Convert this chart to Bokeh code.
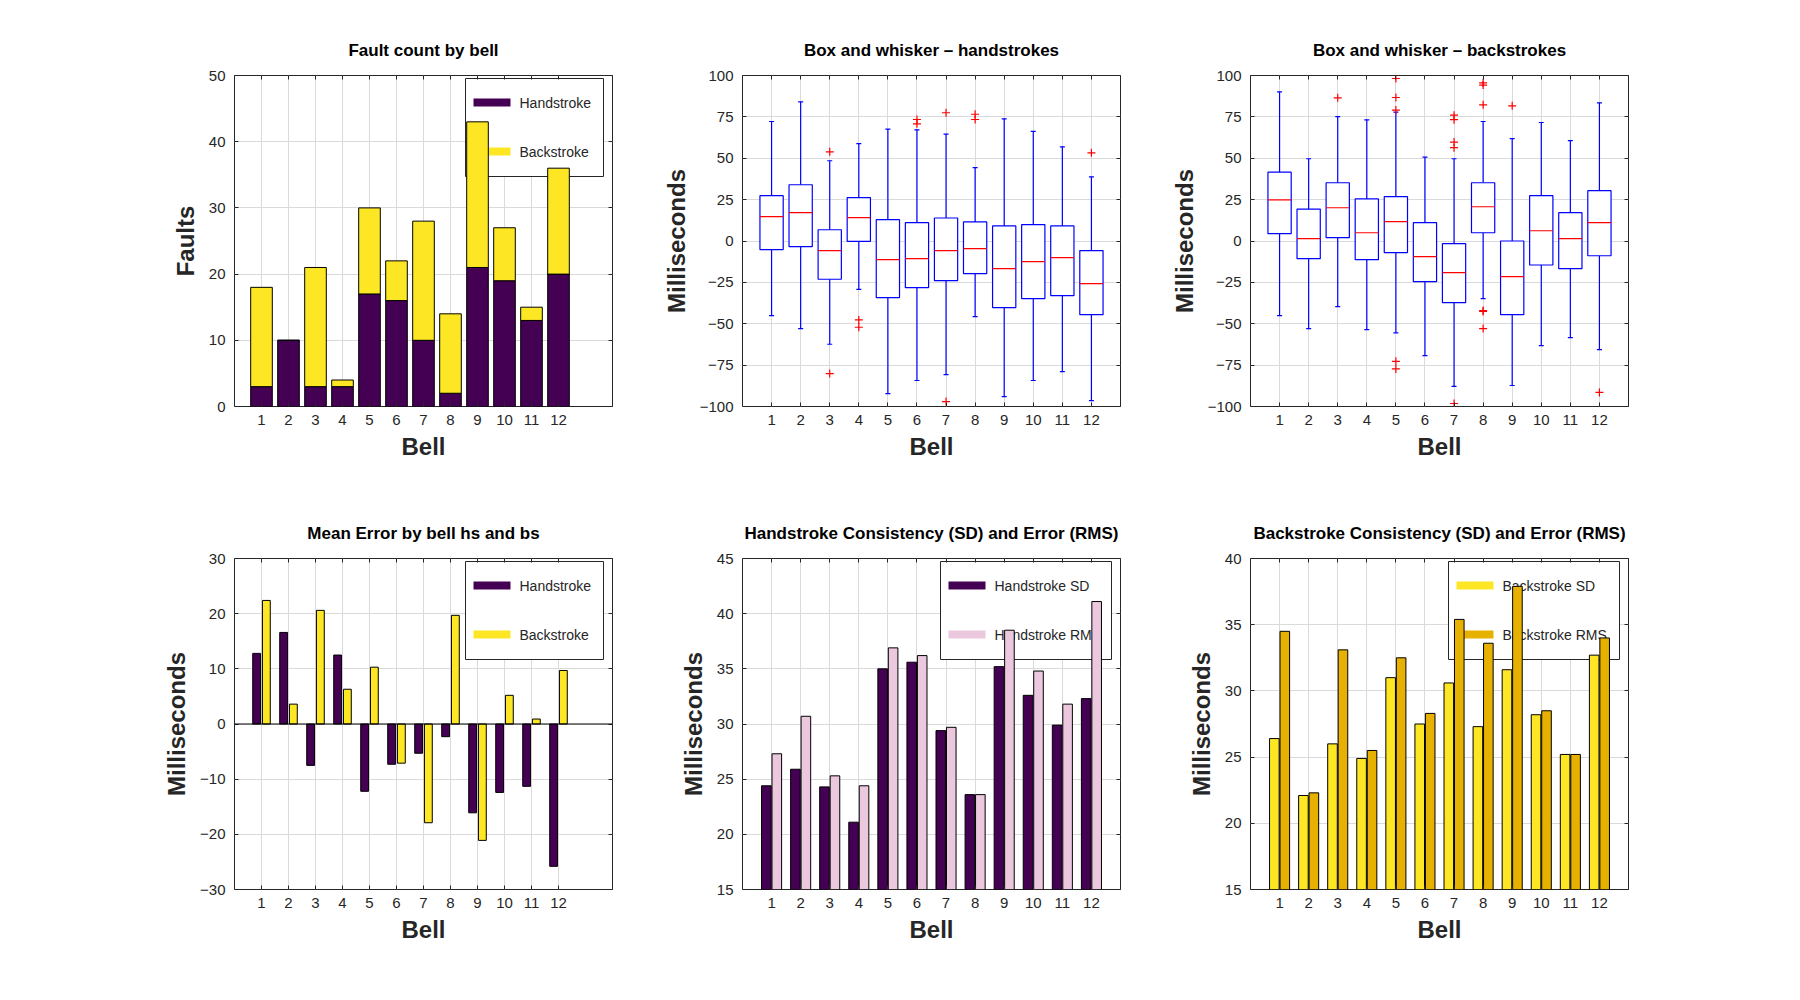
from bokeh.plotting import figure
from bokeh.layouts import column, row
from bokeh.models import (ColumnDataSource, FixedTicker, LinearAxis, BoxAnnotation,
                          Label, Span, CustomJSTickFormatter)
from bokeh.transform import dodge
from bokeh.embed import file_html
from bokeh.resources import INLINE

# ---- data ----
bells = list(range(1, 13))

hs_faults = [3, 10, 3, 3, 17, 16, 10, 2, 21, 19, 13, 20]
bs_faults = [15, 0, 18, 1, 13, 6, 18, 12, 22, 8, 2, 16]

# box and whisker, handstrokes
hs_lo = [-45.1, -52.9, -62.4, -29.2, -92.2, -84.3, -80.7, -45.7, -94.0, -84.3, -78.9, -96.4]
hs_q1 = [-5.2, -3.4, -23.1, -0.2, -34.2, -28.2, -23.9, -19.7, -40.2, -34.8, -33.0, -44.5]
hs_med = [14.7, 17.1, -5.8, 14.1, -11.3, -10.7, -5.8, -4.6, -16.7, -12.5, -10.1, -25.8]
hs_q3 = [27.4, 34.0, 6.8, 26.2, 12.9, 11.1, 13.9, 11.5, 9.1, 9.9, 9.1, -5.8]
hs_hi = [72.2, 84.1, 48.5, 58.8, 67.6, 67.2, 64.6, 44.3, 73.8, 66.2, 56.9, 38.8]
hs_out_bell = [3, 3, 4, 4, 6, 6, 7, 7, 8, 8, 12]
hs_out_val = [53.9, -80.1, -47.7, -52.1, 73.4, 70.8, 77.5, -97.0, 76.6, 73.4, 53.3]

# box and whisker, backstrokes
bs_lo = [-45.1, -52.9, -39.6, -53.5, -55.5, -69.2, -87.9, -34.8, -87.3, -63.2, -58.4, -65.6]
bs_q1 = [4.4, -10.7, 2.0, -11.3, -7.0, -24.5, -37.2, 5.0, -44.5, -14.5, -16.7, -8.9]
bs_med = [24.9, 1.4, 20.1, 5.0, 11.7, -9.5, -19.1, 20.7, -21.5, 6.2, 1.4, 11.1]
bs_q3 = [41.6, 19.3, 35.2, 25.4, 26.8, 11.1, -1.6, 35.2, 0.0, 27.4, 17.1, 30.4]
bs_hi = [90.1, 49.7, 75.1, 73.2, 77.9, 50.7, 49.7, 72.2, 61.8, 71.6, 60.6, 83.5]
bs_out_bell = [3, 5, 5, 5, 5, 5, 7, 7, 7, 7, 7, 8, 8, 8, 8, 8, 8, 9, 12]
bs_out_val = [86.5, 98.2, 86.7, 79.1, -72.7, -77.3, 76.0, 73.3, 59.8, 56.4, -98.2,
              95.6, 94.2, 82.3, -42.0, -42.6, -52.9, 81.7, -91.5]

# mean error
hs_mean = [12.8, 16.6, -7.5, 12.5, -12.2, -7.3, -5.3, -2.3, -16.1, -12.4, -11.3, -25.8]
bs_mean = [22.4, 3.6, 20.6, 6.3, 10.3, -7.1, -17.9, 19.7, -21.1, 5.2, 0.9, 9.7]

# consistency (SD) and error (RMS)
hs_sd = [24.4, 25.9, 24.3, 21.1, 35.0, 35.6, 29.4, 23.6, 35.2, 32.6, 29.9, 32.3]
hs_rms = [27.3, 30.7, 25.3, 24.4, 36.9, 36.2, 29.7, 23.6, 38.5, 34.8, 31.8, 41.1]
bs_sd = [26.4, 22.1, 26.0, 24.9, 31.0, 27.5, 30.6, 27.3, 31.6, 28.2, 25.2, 32.7]
bs_rms = [34.5, 22.3, 33.1, 25.5, 32.5, 28.3, 35.4, 33.6, 37.9, 28.5, 25.2, 34.0]

PURPLE = "#440154"
YELLOW = "#fde725"
PINK = "#ecc8df"
GOLD = "#e6b100"
INK = "#262626"
FONT = "Liberation Sans"

FRAME_W, FRAME_H = 378, 331
TOP, BOTTOM, RIGHT = 75, 77, 20


def minus_formatter():
    return CustomJSTickFormatter(
        code="return tick < 0 ? '\\u2212' + Math.abs(tick) : String(tick)")


def make_fig(title, left, x_end, y_lo, y_hi, y_ticks, y_label):
    p = figure(title=title, width=left + FRAME_W + RIGHT, height=TOP + FRAME_H + BOTTOM,
               x_range=(0, x_end), y_range=(y_lo, y_hi),
               min_border_left=left, min_border_right=RIGHT,
               min_border_top=TOP, min_border_bottom=BOTTOM,
               output_backend="svg", toolbar_location=None, tools="")
    p.background_fill_color = "white"
    p.border_fill_color = "white"
    p.outline_line_color = INK
    p.outline_line_alpha = 1.0
    p.title.align = "center"
    p.title.text_font = FONT
    p.title.text_font_size = "17px"
    p.title.text_font_style = "bold"
    p.title.text_color = "black"
    p.title.standoff = 32

    xa = p.xaxis[0]
    ya = p.yaxis[0]
    xa.ticker = FixedTicker(ticks=bells)
    ya.ticker = FixedTicker(ticks=y_ticks)
    ya.formatter = minus_formatter()
    xa.axis_label = "Bell"
    ya.axis_label = y_label
    for ax in (xa, ya):
        ax.major_label_text_font = FONT
        ax.major_label_text_font_size = "15px"
        ax.major_label_text_color = INK
        ax.axis_label_text_font = FONT
        ax.axis_label_text_font_size = "24px"
        ax.axis_label_text_font_style = "bold"
        ax.axis_label_text_color = INK
    xa.major_label_standoff = 8
    xa.axis_label_standoff = 5
    ya.major_label_standoff = 9
    ya.axis_label_standoff = 7

    # tick marks on top and right edges of the box, no labels
    blank = "return ''"
    top = LinearAxis(ticker=FixedTicker(ticks=bells),
                     formatter=CustomJSTickFormatter(code=blank), major_label_standoff=0)
    right = LinearAxis(ticker=FixedTicker(ticks=y_ticks),
                       formatter=CustomJSTickFormatter(code=blank), major_label_standoff=0)
    p.add_layout(top, "above")
    p.add_layout(right, "right")

    for ax in (xa, ya, top, right):
        ax.axis_line_color = None
        ax.major_tick_in = 4
        ax.major_tick_out = 0
        ax.major_tick_line_color = INK
        ax.minor_tick_line_color = None

    p.grid.grid_line_color = "#dadada"
    p.grid.grid_line_width = 1
    return p


def add_legend(p, entries, left, width):
    # legend box sits under the bars (the original draws bars over it)
    scr = dict(left_units="screen", right_units="screen",
               top_units="screen", bottom_units="screen")
    p.add_layout(BoxAnnotation(left=left, right=left + width, bottom=230, top=328,
                               fill_color="white", fill_alpha=1.0, line_color=INK,
                               line_width=1, line_alpha=1.0, level="underlay", **scr))
    for (label, color), yc in zip(entries, (304, 255)):
        p.add_layout(BoxAnnotation(left=left + 8, right=left + 45, bottom=yc - 4, top=yc + 4,
                                   fill_color=color, fill_alpha=1.0, line_color=None,
                                   level="underlay", **scr))
        p.add_layout(Label(x=left + 54, y=yc, x_units="screen", y_units="screen",
                           text=label, text_baseline="middle", text_font=FONT,
                           text_font_size="14px", text_color=INK, level="underlay"))


def box_whisker(p, lo, q1, med, q3, hi, out_bell, out_val, box_w=0.8):
    src = ColumnDataSource(dict(bell=bells, lo=lo, q1=q1, med=med, q3=q3, hi=hi,
                                m0=[b - box_w / 2 for b in bells],
                                m1=[b + box_w / 2 for b in bells]))
    p.segment(x0="bell", y0="q3", x1="bell", y1="hi", line_color="blue", line_width=1.2, source=src)
    p.segment(x0="bell", y0="q1", x1="bell", y1="lo", line_color="blue", line_width=1.2, source=src)
    p.scatter("bell", "hi", marker="dash", size=5, line_color="blue", line_width=1.2, source=src)
    p.scatter("bell", "lo", marker="dash", size=5, line_color="blue", line_width=1.2, source=src)
    p.vbar(x="bell", bottom="q1", top="q3", width=box_w, fill_color="white",
           line_color="blue", line_width=1.2, source=src)
    p.segment(x0="m0", y0="med", x1="m1", y1="med", line_color="red", line_width=1.2, source=src)
    p.scatter(out_bell, out_val, marker="cross", size=8, line_color="red", line_width=1.2)


def paired_bars(p, a, b, col_a, col_b, off, w):
    src = ColumnDataSource(dict(bell=bells, a=a, b=b))
    p.vbar(x=dodge("bell", -off, range=p.x_range), top="a", width=w, fill_color=col_a,
           line_color="black", line_width=1, source=src)
    p.vbar(x=dodge("bell", off, range=p.x_range), top="b", width=w, fill_color=col_b,
           line_color="black", line_width=1, source=src)


# 1. fault count
p1 = make_fig("Fault count by bell", 234, 14, 0, 50, list(range(0, 51, 10)), "Faults")
add_legend(p1, [("Handstroke", PURPLE), ("Backstroke", YELLOW)], 231, 138)
fault_src = ColumnDataSource(dict(bell=bells, hs=hs_faults, bs=bs_faults))
p1.vbar_stack(["hs", "bs"], x="bell", width=0.8, fill_color=[PURPLE, YELLOW],
              line_color="black", line_width=1, source=fault_src)

# 2. box and whisker handstrokes
p2 = make_fig("Box and whisker \u2013 handstrokes", 110, 13, -100, 100,
              list(range(-100, 101, 25)), "Milliseconds")
box_whisker(p2, hs_lo, hs_q1, hs_med, hs_q3, hs_hi, hs_out_bell, hs_out_val)

# 3. box and whisker backstrokes
p3 = make_fig("Box and whisker \u2013 backstrokes", 110, 13, -100, 100,
              list(range(-100, 101, 25)), "Milliseconds")
box_whisker(p3, bs_lo, bs_q1, bs_med, bs_q3, bs_hi, bs_out_bell, bs_out_val)

# 4. mean error
p4 = make_fig("Mean Error by bell hs and bs", 234, 14, -30, 30,
              list(range(-30, 31, 10)), "Milliseconds")
add_legend(p4, [("Handstroke", PURPLE), ("Backstroke", YELLOW)], 231, 138)
paired_bars(p4, hs_mean, bs_mean, PURPLE, YELLOW, 0.18, 0.29)
p4.add_layout(Span(location=0, dimension="width", line_color="black", line_width=1))

# 5. handstroke SD / RMS
p5 = make_fig("Handstroke Consistency (SD) and Error (RMS)", 110, 13, 15, 45,
              list(range(15, 46, 5)), "Milliseconds")
add_legend(p5, [("Handstroke SD", PURPLE), ("Handstroke RMS", PINK)], 198, 171)
paired_bars(p5, hs_sd, hs_rms, PURPLE, PINK, 0.18, 0.33)

# 6. backstroke SD / RMS
p6 = make_fig("Backstroke Consistency (SD) and Error (RMS)", 110, 13, 15, 40,
              list(range(15, 41, 5)), "Milliseconds")
add_legend(p6, [("Backstroke SD", YELLOW), ("Backstroke RMS", GOLD)], 198, 171)
paired_bars(p6, bs_sd, bs_rms, YELLOW, GOLD, 0.18, 0.33)

layout = column(row(p1, p2, p3), row(p4, p5, p6))

open("out.html", "w").write(file_html(layout, INLINE, title="Bell ringing analysis"))
